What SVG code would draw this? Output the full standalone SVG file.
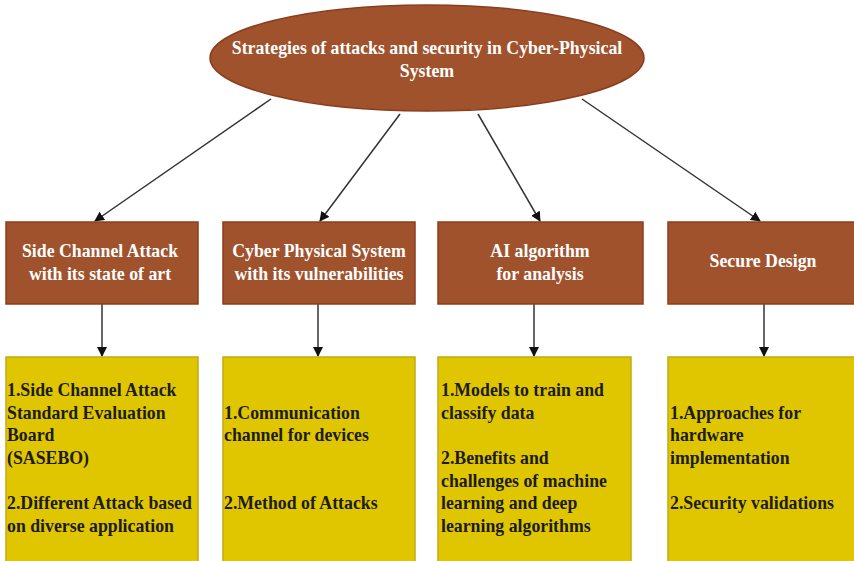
<svg xmlns="http://www.w3.org/2000/svg" width="854" height="561" viewBox="0 0 854 561">
<defs>
<marker id="ah" markerWidth="10" markerHeight="10" refX="9" refY="5" orient="auto" markerUnits="userSpaceOnUse">
<path d="M0,0 L10,5 L0,10 Z" fill="#111"/>
</marker>
<style>
.brown{fill:#A0522D;stroke:#8A3E1E;stroke-width:1.5}
.yel{fill:#E0C600;stroke:#C2AA10;stroke-width:1.5}
.wt{font-family:'Liberation Serif',serif;font-weight:bold;font-size:17.8px;fill:#fff;text-anchor:middle}
.bt{font-family:'Liberation Serif',serif;font-weight:bold;font-size:17.8px;fill:#1c1c10}
.con{stroke:#333;stroke-width:1.5;fill:none;marker-end:url(#ah)}
</style>
</defs>
<rect width="854" height="561" fill="#fff"/>
<g id="connectors">
<line class="con" x1="271" y1="99" x2="95" y2="221"/>
<line class="con" x1="400" y1="114" x2="320" y2="221"/>
<line class="con" x1="478" y1="114" x2="540" y2="221"/>
<line class="con" x1="582" y1="99" x2="760" y2="221"/>
<line class="con" x1="102" y1="304" x2="102" y2="356"/>
<line class="con" x1="318" y1="304" x2="318" y2="356"/>
<line class="con" x1="534" y1="304" x2="534" y2="356"/>
<line class="con" x1="764" y1="304" x2="764" y2="356"/>
</g>
<g id="root">
<ellipse class="brown" cx="427" cy="58" rx="217" ry="53"/>
<text class="wt" x="427" y="54">Strategies of attacks and security in Cyber-Physical</text>
<text class="wt" x="427" y="77">System</text>
</g>
<g id="n1">
<rect class="brown" x="6" y="222" width="192" height="82"/>
<text class="wt" x="100" y="257">Side Channel Attack</text>
<text class="wt" x="100" y="280">with its state of art</text>
</g>
<g id="n2">
<rect class="brown" x="223" y="222" width="192" height="82"/>
<text class="wt" x="319" y="257">Cyber Physical System</text>
<text class="wt" x="319" y="280">with its vulnerabilities</text>
</g>
<g id="n3">
<rect class="brown" x="438" y="222" width="205" height="82"/>
<text class="wt" x="540" y="257">AI algorithm</text>
<text class="wt" x="540" y="280">for analysis</text>
</g>
<g id="n4">
<rect class="brown" x="668" y="222" width="190" height="82"/>
<text class="wt" x="763" y="267">Secure Design</text>
</g>
<g id="d1">
<rect class="yel" x="6" y="357" width="192" height="210"/>
<text class="bt" x="7" y="396">1.Side Channel Attack</text>
<text class="bt" x="7" y="419">Standard Evaluation</text>
<text class="bt" x="7" y="441">Board</text>
<text class="bt" x="7" y="464">(SASEBO)</text>
<text class="bt" x="7" y="509">2.Different Attack based</text>
<text class="bt" x="7" y="532">on diverse application</text>
</g>
<g id="d2">
<rect class="yel" x="223" y="357" width="192" height="210"/>
<text class="bt" x="224" y="419">1.Communication</text>
<text class="bt" x="224" y="441">channel for devices</text>
<text class="bt" x="224" y="509">2.Method of Attacks</text>
</g>
<g id="d3">
<rect class="yel" x="438" y="357" width="193" height="210"/>
<text class="bt" x="441" y="396">1.Models to train and</text>
<text class="bt" x="441" y="419">classify data</text>
<text class="bt" x="441" y="464">2.Benefits and</text>
<text class="bt" x="441" y="487">challenges of machine</text>
<text class="bt" x="441" y="509">learning and deep</text>
<text class="bt" x="441" y="532">learning algorithms</text>
</g>
<g id="d4">
<rect class="yel" x="668" y="357" width="190" height="210"/>
<text class="bt" x="670" y="419">1.Approaches for</text>
<text class="bt" x="670" y="441">hardware</text>
<text class="bt" x="670" y="464">implementation</text>
<text class="bt" x="670" y="509">2.Security validations</text>
</g>
</svg>
